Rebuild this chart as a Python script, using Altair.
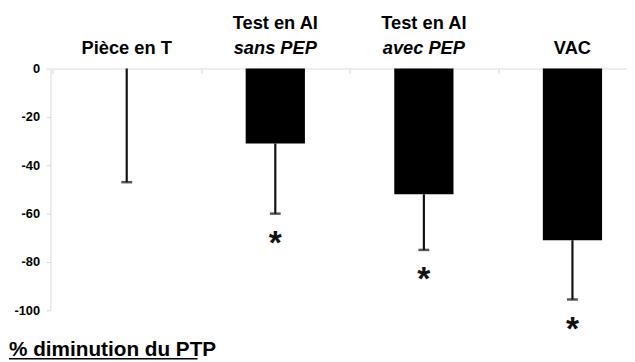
import altair as alt
import pandas as pd

keys = ["c1", "c2", "c3", "c4"]
label_line1 = ["", "Test en AI", "Test en AI", ""]
label_line2 = ["Pièce en T", "sans PEP", "avec PEP", "VAC"]
line2_italic = [False, True, True, False]
values = [0, -31, -52, -71]
err_low = [-47, -60, -75, -95.5]
significant = [False, True, True, True]
y_ticks = [0, -20, -40, -60, -80, -100]
title_text = "% diminution du PTP"

df = pd.DataFrame({
    "key": keys,
    "l1": label_line1,
    "l2": label_line2,
    "ital": line2_italic,
    "value": values,
    "low": err_low,
    "sig": significant,
})
df["star"] = ["*" if s else "" for s in significant]

xs = alt.X("key:N", sort=keys,
           scale=alt.Scale(range=[2, 604], paddingInner=0, paddingOuter=0),
           axis=alt.Axis(orient="bottom", offset=-245, labels=False, title=None,
                         tickBand="extent", tickSize=5, tickColor="#d4d4d4",
                         domainColor="#dcdcdc", ticks=True))
ys = alt.Y("value:Q", scale=alt.Scale(domain=[-100, 0], nice=False),
           axis=alt.Axis(values=y_ticks, title=None, grid=False,
                         labelExpr="'' + datum.value",
                         labelFont="Liberation Sans", labelFontWeight="bold",
                         labelFontSize=13, labelColor="#000", labelPadding=7,
                         tickSize=4, tickColor="#d4d4d4", domainColor="#dcdcdc"))

base = alt.Chart(df)

bars = base.mark_bar(size=60, color="#000").encode(x=xs, y=ys)

rules = base.mark_rule(color="#111", strokeWidth=2.2).encode(
    x=alt.X("key:N", sort=keys), y="value:Q", y2="low:Q")

caps = base.mark_tick(color="#111", size=11, thickness=2.5).encode(
    x=alt.X("key:N", sort=keys), y="low:Q")

stars = base.mark_text(font="Liberation Sans", fontWeight="bold",
                       fontSize=34, dy=31, color="#111").encode(
    x=alt.X("key:N", sort=keys), y="low:Q", text="star:N")

lab1 = base.mark_text(font="Liberation Sans", fontWeight="bold", fontSize=18.5,
                      color="#000", baseline="alphabetic").encode(
    x=alt.X("key:N", sort=keys), y=alt.value(-40), text="l1:N")

lab2_plain = base.transform_filter("!datum.ital").mark_text(
    font="Liberation Sans", fontWeight="bold", fontSize=18.5,
    color="#000", baseline="alphabetic").encode(
    x=alt.X("key:N", sort=keys), y=alt.value(-15), text="l2:N")

lab2_ital = base.transform_filter("datum.ital").mark_text(
    font="Liberation Sans", fontWeight="bold", fontStyle="italic", fontSize=18.5,
    color="#000", baseline="alphabetic").encode(
    x=alt.X("key:N", sort=keys), y=alt.value(-15), text="l2:N")

title = alt.Chart(pd.DataFrame({"t": [title_text]})).mark_text(
    font="Liberation Sans", fontWeight="bold", fontSize=21, color="#000",
    align="left", baseline="alphabetic").encode(
    x=alt.value(-42), y=alt.value(291), text="t:N")

underline = alt.Chart(pd.DataFrame({"t": [title_text]})).mark_rule(
    color="#000", strokeWidth=1.5).encode(
    x=alt.value(-42), x2=alt.value(149), y=alt.value(294))

chart = alt.layer(bars, rules, caps, stars, lab1, lab2_plain, lab2_ital,
                  title, underline).properties(
    width=584, height=245,
    autosize=alt.AutoSizeParams(type="none"),
    padding={"left": 43, "top": 59, "right": 0, "bottom": 50},
    background="white",
).configure_view(stroke=None)

chart.save("out.html", embed_options={"renderer": "svg", "actions": False})
